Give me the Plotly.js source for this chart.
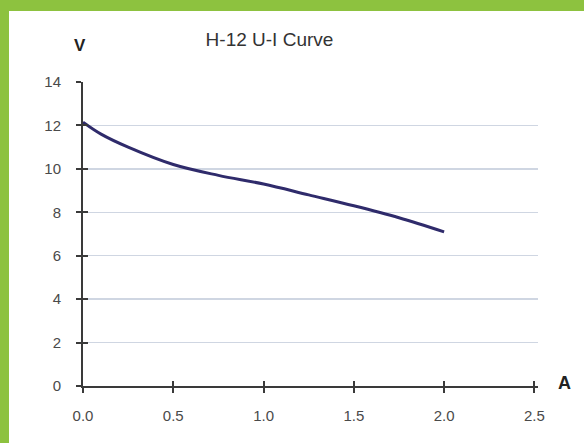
<!DOCTYPE html>
<html>
<head>
<meta charset="utf-8">
<script src="https://cdn.plot.ly/plotly-3.0.1.min.js"></script>
<style>
html,body{margin:0;padding:0;background:#8dc23f;width:584px;height:443px;overflow:hidden;}
#chart{position:absolute;left:9px;top:11px;width:575px;height:432px;background:#fff;}
</style>
</head>
<body>
<div id="chart"></div>
<script>
// Current (A) and voltage (V)
const currentA = [0, 0.1, 0.25, 0.5, 0.75, 1.0, 1.25, 1.5, 1.75, 2.0];
const voltageV = [12.15, 11.6, 11.0, 10.2, 9.7, 9.3, 8.8, 8.3, 7.75, 7.1];
const xTicks = [0, 0.5, 1.0, 1.5, 2.0, 2.5];
const xTickLabels = ["0.0", "0.5", "1.0", "1.5", "2.0", "2.5"];
const yTicks = [0, 2, 4, 6, 8, 10, 12, 14];
const chartTitle = "H-12 U-I Curve";
const yUnit = "V";
const xUnit = "A";

const font = "Liberation Sans, Arial, sans-serif";
const axisColor = "#3a3a3a";

const data = [
  {
    x: currentA, y: voltageV, mode: "lines", type: "scatter",
    line: {color: "#2f2b6b", width: 3, shape: "spline", smoothing: 1},
    hoverinfo: "skip", showlegend: false
  },
  {
    x: [currentA[0]], y: [voltageV[0]], xaxis: "x2", yaxis: "y2",
    mode: "markers", marker: {opacity: 0}, hoverinfo: "skip", showlegend: false
  }
];

const baseX = {
  range: [0, 2.52], tickvals: xTicks, ticktext: xTickLabels,
  showline: true, linecolor: axisColor, linewidth: 2,
  ticklen: 5, tickwidth: 2, tickcolor: axisColor,
  showgrid: false, zeroline: false, fixedrange: true
};
const baseY = {
  range: [0, 14], tickvals: yTicks,
  showline: true, linecolor: axisColor, linewidth: 2,
  ticklen: 5, tickwidth: 2, tickcolor: axisColor,
  zeroline: false, fixedrange: true
};

const tickFont = {family: font, size: 15, color: "#4a4a4a"};

const layout = {
  width: 575, height: 432,
  margin: {l: 74, r: 46, t: 71, b: 57},
  paper_bgcolor: "#ffffff", plot_bgcolor: "#ffffff",
  font: tickFont,
  title: {
    text: chartTitle, font: {family: font, size: 19, color: "#333"},
    xref: "container", yref: "container", x: 0.453, y: 0.935,
    xanchor: "center", yanchor: "middle"
  },
  xaxis: Object.assign({}, baseX, {ticks: "outside", showticklabels: true, ticklabelstandoff: 10,
    tickfont: tickFont}),
  yaxis: Object.assign({}, baseY, {ticks: "outside", showticklabels: true, ticklabelstandoff: 12,
    showgrid: true, gridcolor: "#cfd6e2", gridwidth: 1.5,
    tickfont: tickFont}),
  xaxis2: Object.assign({}, baseX, {overlaying: "x", anchor: "y2", side: "bottom",
    ticks: "inside", showticklabels: false}),
  yaxis2: Object.assign({}, baseY, {overlaying: "y", anchor: "x2", side: "left",
    ticks: "inside", showticklabels: false, showgrid: false}),
  annotations: [
    {text: yUnit, xref: "paper", yref: "paper", x: -0.006, y: 1.12, showarrow: false,
     xanchor: "center", yanchor: "middle", font: {family: font, size: 17, color: "#222", weight: "bold"}},
    {text: xUnit, xref: "paper", yref: "paper", x: 1.058, y: 0.01, showarrow: false,
     xanchor: "center", yanchor: "middle", font: {family: font, size: 18, color: "#222", weight: "bold"}}
  ]
};

Plotly.newPlot("chart", data, layout, {displayModeBar: false, staticPlot: true});
</script>
</body>
</html>
